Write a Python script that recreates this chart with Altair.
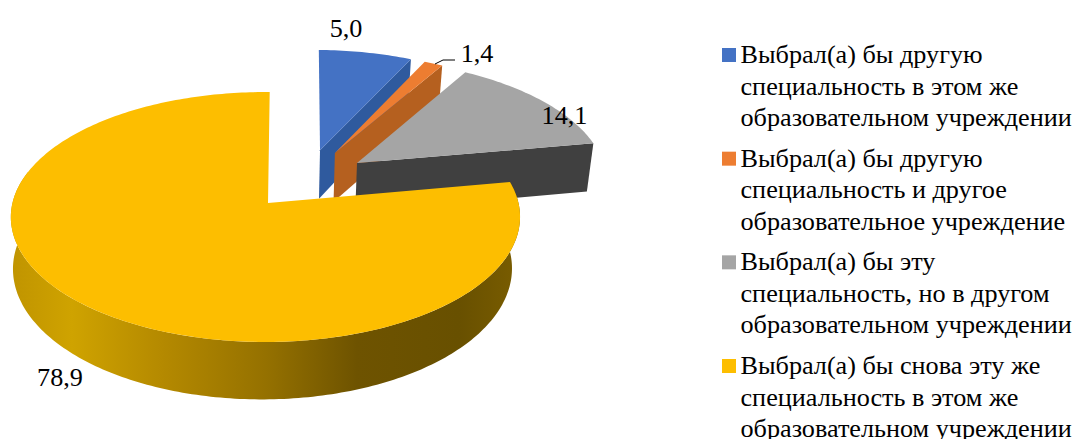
import math
import altair as alt

categories = [
    "Выбрал(а) бы другую\nспециальность в этом же\nобразовательном учреждении",
    "Выбрал(а) бы другую\nспециальность и другое\nобразовательное учреждение",
    "Выбрал(а) бы эту\nспециальность, но в другом\nобразовательном учреждении",
    "Выбрал(а) бы снова эту же\nспециальность в этом же\nобразовательном учреждении",
]
label_values = [5.0, 1.4, 14.1, 78.9]
# Shares of the circle as the slices are actually drawn in the picture
drawn_shares = [6.94, 1.39, 13.62, 78.05]
first_angle = 1.0
top_colors = ["#4472C4", "#ED7D31", "#A5A5A5", "#FDBE00"]
wall_colors = ["#2F5A9E", "#B5601F", "#404040", None]
# Explosion of each slice, in units of the pie radius
explode_u = [0.216, 0.277, 0.365, 0.0]
explode_v = [0.45, 0.424, 0.336, 0.0]
rim_shift_u = [0.0, 0.0, 0.0, -0.01]
wall_shift_u = [0.0, 0.0, 0.0, -0.012]
radii = [0.99, 0.99, 1.01, 1.0]
label_pos = [(346, 37), (477, 62), (564.5, 124), (60, 386)]

FONT = "Liberation Serif"
FONT_SIZE = 26.2
M = 8
X0, Y0 = 268 - M, 203 - M
A, B, K = 253.0, 123.4, 0.112
T, C = 51.0, 0.02


def project(u, v, low=False):
    w = 1 + K * v
    x = A * u / w
    y = -B * v / w
    if low:
        x *= 1 - C
        y += T / w
    return [round(X0 + x, 2), round(Y0 + y, 2)]


def feature(ring):
    return {
        "type": "Feature",
        "properties": {},
        "geometry": {"type": "Polygon", "coordinates": [ring + [ring[0]]]},
    }


def arc_angles(a0, a1, step=1.0):
    n = max(2, int(abs(a1 - a0) / step))
    return [a0 + (a1 - a0) * i / n for i in range(n + 1)]


def rim(i, a, low=False):
    r = radii[i]
    t = math.radians(a)
    shift = rim_shift_u[i] + (wall_shift_u[i] if low else 0.0)
    return project(
        explode_u[i] + shift + r * math.sin(t),
        explode_v[i] + r * math.cos(t),
        low,
    )


def top_ring(i, a0, a1):
    apex = project(explode_u[i], explode_v[i])
    return [apex] + [rim(i, a) for a in arc_angles(a0, a1)]


def cut_wall_ring(i, a1):
    return [
        project(explode_u[i], explode_v[i]),
        rim(i, a1),
        rim(i, a1, True),
        project(explode_u[i], explode_v[i], True),
    ]


def outer_wall_ring(i, a0, a1):
    angles = arc_angles(a0, a1)
    return [rim(i, a) for a in angles] + [rim(i, a, True) for a in reversed(angles)]


def shape(ring, fill):
    return (
        alt.Chart(alt.Data(values=[feature(ring)]))
        .mark_geoshape(fill=fill, strokeWidth=0)
        .project(type="identity", scale=1, translate=[0, 0])
    )


total = sum(drawn_shares)
edges = [first_angle]
for s in drawn_shares:
    edges.append(edges[-1] + 360.0 * s / total)

layers = []
for i in range(3):
    layers.append(shape(cut_wall_ring(i, edges[i + 1]), wall_colors[i]))
    layers.append(shape(top_ring(i, edges[i], edges[i + 1]), top_colors[i]))

yellow_wall = alt.Gradient(
    gradient="linear", x1=0, x2=1, y1=0, y2=0,
    stops=[
        alt.GradientStop(offset=0.0, color="#C09400"),
        alt.GradientStop(offset=0.12, color="#CFA300"),
        alt.GradientStop(offset=0.30, color="#B48900"),
        alt.GradientStop(offset=0.50, color="#957100"),
        alt.GradientStop(offset=0.68, color="#6E5300"),
        alt.GradientStop(offset=0.88, color="#685000"),
        alt.GradientStop(offset=1.0, color="#7A5D00"),
    ],
)
layers.append(shape(outer_wall_ring(3, edges[3], 285), yellow_wall))
layers.append(shape(top_ring(3, edges[3], edges[4]), top_colors[3]))

# Leader line of the small slice
for xa, xb, ya, yb in [(435, 443, 64, 60), (443, 455, 60, 60)]:
    layers.append(
        alt.Chart(alt.Data(values=[{"a": 1}])).mark_rule(color="#000000", strokeWidth=1).encode(
            x=alt.value(xa - M), x2=alt.value(xb - M), y=alt.value(ya - M), y2=alt.value(yb - M)
        )
    )

# Data labels
for v, (px, py) in zip(label_values, label_pos):
    layers.append(
        alt.Chart(alt.Data(values=[{"t": f"{v:.1f}".replace(".", ",")}]))
        .mark_text(font=FONT, fontSize=FONT_SIZE, color="#000000", align="center", baseline="alphabetic")
        .encode(text="t:N", x=alt.value(px - M), y=alt.value(py - M))
    )

# Legend
legend_rows = [{"cat": c, "color": k} for c, k in zip(categories, top_colors)]
legend_y = alt.Y(
    "cat:N",
    axis=None,
    sort=None,
    scale=alt.Scale(type="point", domain=categories, range=[55 - M, 366 - M], padding=0),
)
layers.append(
    alt.Chart(alt.Data(values=legend_rows)).mark_square(size=196, opacity=1, filled=True).encode(
        x=alt.value(729 - M),
        y=legend_y,
        color=alt.Color("color:N", scale=None, legend=None),
    )
)
layers.append(
    alt.Chart(alt.Data(values=legend_rows))
    .mark_text(
        font=FONT, fontSize=FONT_SIZE, color="#000000", align="left", baseline="alphabetic",
        lineBreak="\n", lineHeight=31.5, dy=8,
    )
    .encode(text="cat:N", x=alt.value(740.5 - M), y=legend_y)
)

chart = (
    alt.layer(*layers)
    .properties(width=1066, height=431, padding=0, autosize=alt.AutoSizeParams(type="none"))
    .configure_view(stroke=None)
)
chart.save("out.html", embed_options={"renderer": "svg", "actions": False})
